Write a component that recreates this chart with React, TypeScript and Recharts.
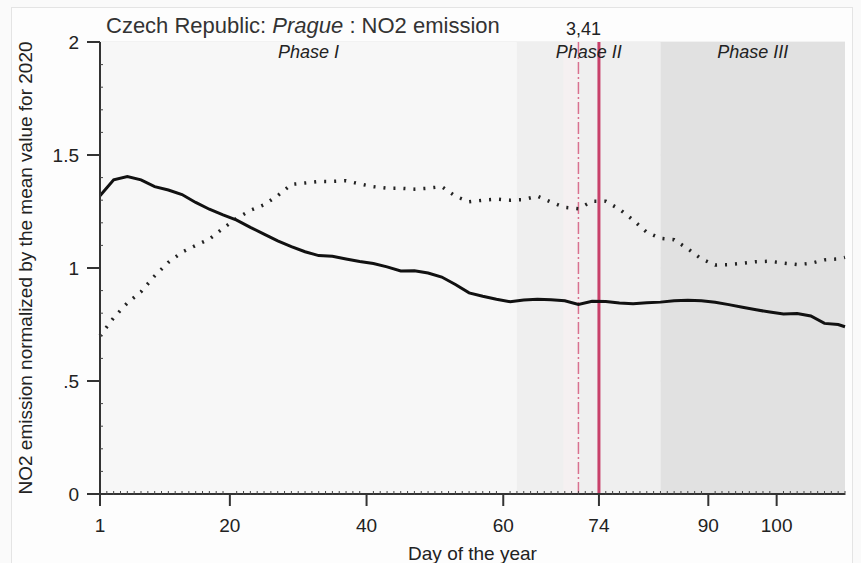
import React from "react";
import {
  LineChart,
  Line,
  XAxis,
  YAxis,
  CartesianGrid,
  ReferenceArea,
  ReferenceLine,
} from "recharts";

// days (every second day)
const days = [
  1, 3, 5, 7, 9, 11, 13, 15, 17, 19, 21, 23, 25, 27, 29, 31, 33, 35, 37, 39,
  41, 43, 45, 47, 49, 51, 53, 55, 57, 59, 61, 63, 65, 67, 69, 71, 73, 75, 77,
  79, 81, 83, 85, 87, 89, 91, 93, 95, 97, 99, 101, 103, 105, 107, 109, 110,
];

// 2020 (solid line)
const no2In2020 = [
  1.32, 1.39, 1.405, 1.39, 1.36, 1.345, 1.325, 1.29, 1.26, 1.235, 1.212, 1.18,
  1.15, 1.12, 1.095, 1.072, 1.055, 1.052, 1.04, 1.029, 1.02, 1.005, 0.987,
  0.988, 0.978, 0.96, 0.927, 0.89, 0.875, 0.862, 0.851, 0.858, 0.862, 0.86,
  0.855, 0.839, 0.853, 0.852, 0.845, 0.842, 0.846, 0.849, 0.855, 0.857, 0.855,
  0.848, 0.838, 0.826, 0.815, 0.805, 0.796, 0.799, 0.788, 0.755, 0.75, 0.74,
];

// reference period (dotted line)
const no2Reference = [
  0.7, 0.78, 0.845, 0.895, 0.965, 1.025, 1.07, 1.1, 1.128, 1.175, 1.22, 1.255,
  1.28, 1.32, 1.37, 1.376, 1.383, 1.383, 1.386, 1.372, 1.36, 1.353, 1.353,
  1.349, 1.353, 1.36, 1.318, 1.293, 1.3, 1.305, 1.3, 1.303, 1.318, 1.292,
  1.268, 1.262, 1.295, 1.295, 1.26, 1.212, 1.158, 1.131, 1.125, 1.085, 1.04,
  1.013, 1.015, 1.021, 1.028, 1.03, 1.022, 1.015, 1.021, 1.036, 1.04, 1.047,
];

const xMajorTicks = [1, 20, 40, 60, 74, 90, 100];
const yMajorTicks = [0, 0.5, 1, 1.5, 2];
const yTickLabels = ["0", ".5", "1", "1.5", "2"];

const phases = [
  { name: "Phase I", from: 1, to: 62, fill: "#f7f7f7" },
  { name: "Phase II", from: 62, to: 83, fill: "#efefef" },
  { name: "Phase III", from: 83, to: 110, fill: "#e1e1e1" },
];

const lockdownDay = 74;
const announceDay = 71;
const announceLabel = "3,41";

const data = days.map((d, i) => ({
  day: d,
  y2020: no2In2020[i],
  ref: no2Reference[i],
}));

const FONT = "'Liberation Sans', Arial, Helvetica, sans-serif";

const xTickList = Array.from({ length: 110 }, (_, i) => i + 1);
const yTickList = Array.from({ length: 21 }, (_, i) => i / 10);

const XTick = (props: any) => {
  const { x, y, payload } = props;
  const v = payload.value;
  if (xMajorTicks.includes(v)) {
    return (
      <g>
        <line x1={x} x2={x} y1={y} y2={y + 12} stroke="#333" strokeWidth={2} />
        <text
          x={x}
          y={y + 38}
          textAnchor="middle"
          fontFamily={FONT}
          fontSize={19}
          fill="#222"
        >
          {v}
        </text>
      </g>
    );
  }
  return <line x1={x} x2={x} y1={y - 3} y2={y + 1} stroke="#444" strokeWidth={1} />;
};

const YTick = (props: any) => {
  const { x, y, payload } = props;
  const tenth = Math.round(payload.value * 10);
  if (tenth % 5 === 0) {
    const idx = yMajorTicks.indexOf(tenth / 10);
    return (
      <g>
        <line x1={x - 13} x2={x} y1={y} y2={y} stroke="#333" strokeWidth={2} />
        <text
          x={x - 21}
          y={y}
          dy="0.36em"
          textAnchor="end"
          fontFamily={FONT}
          fontSize={19}
          fill="#222"
        >
          {yTickLabels[idx]}
        </text>
      </g>
    );
  }
  return <line x1={x} x2={x + 3} y1={y} y2={y} stroke="#444" strokeWidth={1} />;
};

export default function App() {
  return (
    <div
      style={{
        position: "absolute",
        left: 0,
        top: 0,
        width: 861,
        height: 563,
        background: "#fafafa",
        overflow: "hidden",
      }}
    >
      <div
        style={{
          position: "absolute",
          left: 11,
          top: 7,
          width: 840,
          height: 570,
          border: "1px solid #e4e4e4",
          background: "#fdfdfd",
        }}
      />
      <div style={{ position: "absolute", left: 0, top: 0 }}>
        <LineChart
          width={861}
          height={563}
          data={data}
          margin={{ top: 42, right: 16, bottom: 0, left: 0 }}
        >
          {phases.map((p) => (
            <ReferenceArea
              key={p.name}
              x1={p.from}
              x2={p.to}
              fill={p.fill}
              fillOpacity={1}
              stroke="none"
              label={{
                value: p.name,
                position: "insideTop",
                offset: 3,
                fontFamily: FONT,
                fontSize: 18,
                fontStyle: "italic",
                fill: "#222",
              }}
            />
          ))}
          <ReferenceArea
            x1={68.8}
            x2={71.2}
            fill="#fdf2f4"
            fillOpacity={0.45}
            stroke="none"
          />
          <CartesianGrid
            vertical={false}
            horizontalValues={[0.5, 1, 1.5, 2]}
            stroke="#000"
            strokeOpacity={0.045}
            strokeWidth={2}
          />
          <XAxis
            dataKey="day"
            type="number"
            domain={[1, 110]}
            ticks={xTickList}
            interval={0}
            tick={<XTick />}
            tickLine={false}
            tickSize={0}
            tickMargin={0}
            axisLine={{ stroke: "#333", strokeWidth: 2 }}
            height={69}
            label={{
              value: "Day of the year",
              position: "insideBottom",
              offset: 3,
              fontFamily: FONT,
              fontSize: 19,
              fill: "#222",
            }}
          />
          <YAxis
            type="number"
            domain={[0, 2]}
            ticks={yTickList}
            interval={0}
            tick={<YTick />}
            tickLine={false}
            tickSize={0}
            tickMargin={0}
            axisLine={{ stroke: "#333", strokeWidth: 2 }}
            width={100}
          />
          <ReferenceLine
            x={announceDay}
            stroke="#d9708f"
            strokeWidth={1.5}
            strokeDasharray="12 3 2 3"
            label={{
              value: announceLabel,
              position: "top",
              offset: 7,
              dx: 5,
              fontFamily: FONT,
              fontSize: 18,
              fill: "#222",
            }}
          />
          <ReferenceLine x={lockdownDay} stroke="#c8406a" strokeWidth={3} />
          <Line
            dataKey="ref"
            stroke="#222"
            strokeWidth={3.5}
            strokeDasharray="2 8"
            dot={false}
            isAnimationActive={false}
            type="linear"
          />
          <Line
            dataKey="y2020"
            stroke="#111"
            strokeWidth={3}
            dot={false}
            isAnimationActive={false}
            type="linear"
          />
        </LineChart>
      </div>
      <svg
        width={861}
        height={563}
        style={{ position: "absolute", left: 0, top: 0, pointerEvents: "none" }}
      >
        <text x={106} y={33} fontFamily={FONT} fontSize={22} fill="#333">
          Czech Republic: <tspan fontStyle="italic">Prague</tspan> : NO2 emission
        </text>
        <text
          transform="translate(32 268) rotate(-90)"
          textAnchor="middle"
          fontFamily={FONT}
          fontSize={19}
          fill="#222"
        >
          NO2 emission normalized by the mean value for 2020
        </text>
      </svg>
    </div>
  );
}
